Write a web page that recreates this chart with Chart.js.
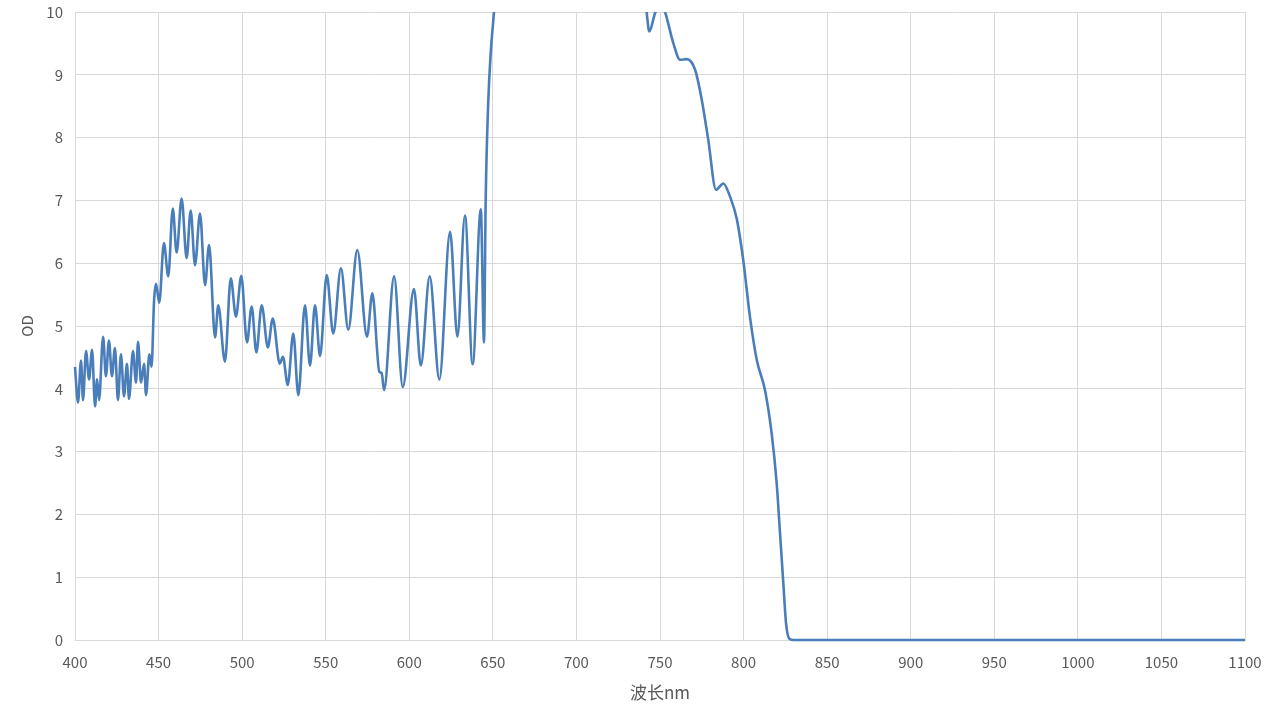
<!DOCTYPE html>
<html>
<head>
<meta charset="utf-8">
<script src="https://cdn.jsdelivr.net/npm/chart.js@4/dist/chart.umd.min.js"></script>
<style>
  html, body { margin: 0; padding: 0; background: #fff; }
  #wrap { width: 1269px; height: 721px; position: relative; }
</style>
</head>
<body>
<div id="wrap"><canvas id="odChart"></canvas></div>
<script>
// --- data ---
const wavelength = [
  400, 401.8, 403.6, 404.8, 406.6, 408.4, 410.2, 412, 413.2, 414.4,
  416.8, 418.5, 420.3, 422.1, 423.9, 425.7, 427.5, 429.3, 431.1, 432.3,
  434.7, 436.5, 437.7, 439.5, 441.3, 442.5, 444.5, 445.8, 447.3, 448.5,
  450.4, 453.2, 455.8, 458.5, 460.8, 463.8, 466.8, 469.2, 471.8, 474.8,
  477.8, 480.2, 483.8, 485.7, 489.7, 493.2, 496.3, 499.5, 502.9, 505.7,
  508.5, 511.7, 515.4, 518.3, 522.5, 524.4, 527.3, 530.6, 533.6, 537.6,
  540.6, 543.6, 546.6, 550.6, 554.5, 559.1, 563.5, 568.9, 574.7, 577.9,
  582.1, 583.5, 584.9, 590.9, 596.1, 602.8, 606.9, 612.2, 618, 624.4,
  628.8, 633.3, 637.9, 642.8, 644.7, 645.7, 647.3, 648.7, 650.7, 655,
  700, 738, 742, 743.6, 747, 750, 753, 758, 762, 766,
  771, 775, 778.9, 783.5, 787.9, 791.9, 795.9, 799.8, 803.8, 807.9,
  812.8, 816.8, 819.8, 821.8, 823.8, 825.4, 827.4, 830, 1100
];
const od = [
  4.35, 3.78, 4.45, 3.82, 4.6, 4.15, 4.62, 3.72, 4.15, 3.82,
  4.83, 4.2, 4.77, 4.2, 4.65, 3.82, 4.55, 3.88, 4.4, 3.84,
  4.6, 4.1, 4.75, 4.1, 4.4, 3.9, 4.55, 4.35, 5.4, 5.67,
  5.37, 6.32, 5.79, 6.87, 6.17, 7.03, 6.08, 6.84, 5.97, 6.79,
  5.65, 6.29, 4.82, 5.33, 4.43, 5.76, 5.15, 5.8, 4.74, 5.31,
  4.58, 5.33, 4.66, 5.12, 4.4, 4.51, 4.06, 4.88, 3.9, 5.33,
  4.37, 5.33, 4.52, 5.81, 4.88, 5.92, 4.94, 6.21, 4.83, 5.52,
  4.27, 4.25, 3.98, 5.79, 4.03, 5.59, 4.37, 5.79, 4.15, 6.5,
  4.83, 6.76, 4.39, 6.86, 4.74, 7.0, 8.6, 9.34, 10.0, 11.5,
  13, 11, 10.0, 9.69, 9.98, 10.15, 10.0, 9.5, 9.24, 9.25,
  9.08, 8.6, 7.96, 7.17, 7.27, 7.06, 6.71, 6.05, 5.15, 4.46,
  3.98, 3.29, 2.5, 1.7, 0.9, 0.27, 0.02, 0, 0
];
const xRange = [400, 1100];
const yRange = [0, 10];

const points = wavelength.map((w, i) => ({ x: w, y: od[i] }));

const tickColor = '#595959';
const gridColor = '#d9d9d9';
const fontFamily = '"Noto Sans CJK SC", "Noto Sans", sans-serif';

new Chart(document.getElementById('odChart'), {
  type: 'line',
  data: {
    datasets: [{
      data: points,
      borderColor: '#4a7ebb',
      borderWidth: 2.6,
      pointRadius: 0,
      fill: false,
      cubicInterpolationMode: 'monotone',
      clip: { left: 5, top: 0, right: 5, bottom: 5 }
    }]
  },
  options: {
    responsive: true,
    maintainAspectRatio: false,
    animation: false,
    layout: { padding: { left: 0, right: 24, top: 12, bottom: 0 } },
    plugins: {
      legend: { display: false },
      tooltip: { enabled: false }
    },
    scales: {
      x: {
        type: 'linear',
        min: xRange[0],
        max: xRange[1],
        grid: { color: gridColor, drawTicks: false },
        border: { color: gridColor },
        ticks: {
          stepSize: 50, color: tickColor, padding: 13, maxRotation: 0, autoSkip: false,
          font: { family: fontFamily, size: 15 },
          callback: (v) => String(v)
        },
        title: { display: true, text: '波长nm', color: tickColor, padding: { top: 0, bottom: 18 }, font: { family: fontFamily, size: 17 } },
        afterFit: (scale) => { scale.height = 81; scale.paddingLeft = 0; scale.paddingRight = 0; }
      },
      y: {
        min: yRange[0],
        max: yRange[1],
        grid: { color: gridColor, drawTicks: false },
        border: { color: gridColor },
        ticks: { stepSize: 1, color: tickColor, padding: 12, font: { family: fontFamily, size: 15 } },
        title: { display: true, text: 'OD', color: tickColor, padding: { top: 18, bottom: 0 }, font: { family: fontFamily, size: 15 } },
        afterFit: (scale) => { scale.width = 75; scale.paddingTop = 0; scale.paddingBottom = 0; }
      }
    }
  }
});
</script>
</body>
</html>
